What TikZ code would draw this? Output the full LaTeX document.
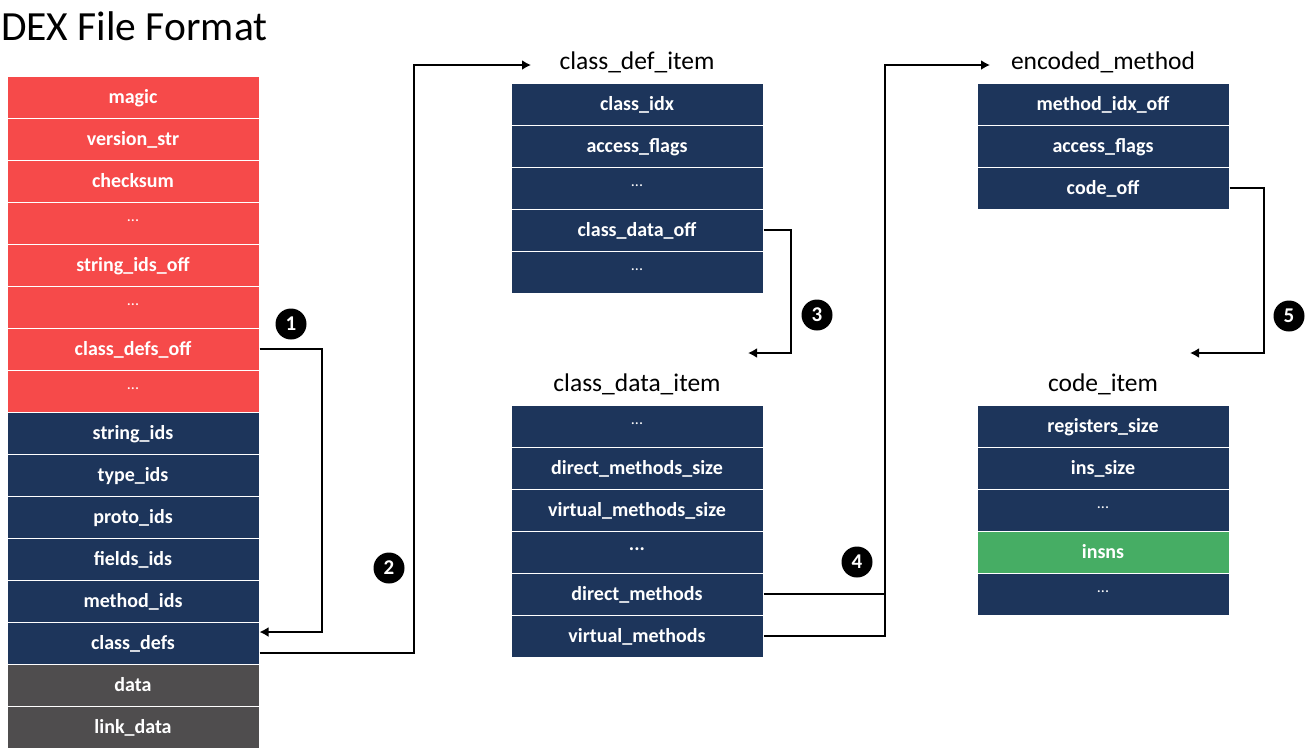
\documentclass[tikz,border=0pt]{standalone}
\usepackage{fontspec}
\setmainfont{Carlito}
\usetikzlibrary{arrows.meta}
\definecolor{hdrred}{RGB}{246,74,74}
\definecolor{navyrow}{RGB}{29,53,91}
\definecolor{grayrow}{RGB}{79,77,78}
\definecolor{insgreen}{RGB}{70,173,100}
\begin{document}
\begin{tikzpicture}[x=1pt,y=-1pt,
  row/.style={draw=white, line width=1pt, minimum width=252pt, minimum height=42pt,
    inner sep=0pt, text=white, font=\fontsize{20}{24}\selectfont\bfseries,
    text height=15pt, text depth=3pt, anchor=center},
  redrow/.style={row, fill=hdrred},
  navy/.style={row, fill=navyrow},
  grayr/.style={row, fill=grayrow},
  greenrow/.style={row, fill=insgreen},
  dots/.style={text height=7pt, text depth=11pt},
  thin/.style={dots, font=\fontsize{16}{20}\selectfont},
  header/.style={anchor=base, inner sep=0pt, font=\fontsize{25.5}{30}\selectfont},
  badge/.style={circle, fill=black, text=white, minimum size=31pt, inner sep=0pt,
    font=\fontsize{21}{24}\selectfont\bfseries},
  link/.style={line width=2pt, draw=black},
  arr/.style={link, -{Latex[length=9pt,width=10pt]}}
]
\useasboundingbox (0,0) rectangle (1305,748);

% title
\node[anchor=base west, inner sep=0pt, font=\fontsize{41.5}{48}\selectfont] (title) at (1,40) {DEX File Format};

% left column: DEX file
\node[redrow] (magic) at (133,97) {magic};
\node[redrow] (vers) at (133,139) {version\_str};
\node[redrow] (chk) at (133,181) {checksum};
\node[redrow,thin] (rdots1) at (133,223) {...};
\node[redrow] (sidoff) at (133,265) {string\_ids\_off};
\node[redrow,thin] (rdots2) at (133,307) {...};
\node[redrow] (cdoff) at (133,349) {class\_defs\_off};
\node[redrow,thin] (rdots3) at (133,391) {...};
\node[navy] (sids) at (133,433) {string\_ids};
\node[navy] (tids) at (133,475) {type\_ids};
\node[navy] (pids) at (133,517) {proto\_ids};
\node[navy] (fids) at (133,559) {fields\_ids};
\node[navy] (mids) at (133,601) {method\_ids};
\node[navy] (cdefs) at (133,643) {class\_defs};
\node[grayr] (data) at (133,685) {data};
\node[grayr] (link) at (133,727) {link\_data};

% class_def_item
\node[header] (cdihead) at (637,69) {class\_def\_item};
\node[navy] (cidx) at (637,104) {class\_idx};
\node[navy] (cflags) at (637,146) {access\_flags};
\node[navy,thin] (cdots1) at (637,188) {...};
\node[navy] (cdataoff) at (637,230) {class\_data\_off};
\node[navy,thin] (cdots2) at (637,272) {...};

% class_data_item
\node[header] (cdahead) at (637,391) {class\_data\_item};
\node[navy,thin] (ddots1) at (637,426) {...};
\node[navy] (dms) at (637,468) {direct\_methods\_size};
\node[navy] (vms) at (637,510) {virtual\_methods\_size};
\node[navy,dots] (ddots2) at (637,552) {...};
\node[navy] (dm) at (637,594) {direct\_methods};
\node[navy] (vm) at (637,636) {virtual\_methods};

% encoded_method
\node[header] (emhead) at (1103,69) {encoded\_method};
\node[navy] (midx) at (1103,104) {method\_idx\_off};
\node[navy] (mflags) at (1103,146) {access\_flags};
\node[navy] (codeoff) at (1103,188) {code\_off};

% code_item
\node[header] (cihead) at (1103,391) {code\_item};
\node[navy] (regs) at (1103,426) {registers\_size};
\node[navy] (ins) at (1103,468) {ins\_size};
\node[navy,thin] (idots1) at (1103,510) {...};
\node[greenrow] (insns) at (1103,552) {insns};
\node[navy,thin] (idots2) at (1103,594) {...};

% badges
\node[badge] (b1) at (291,324) {1};
\node[badge] (b2) at (389,568) {2};
\node[badge] (b3) at (817,315) {3};
\node[badge] (b4) at (857,562) {4};
\node[badge] (b5) at (1289,316) {5};

% bend and tip coordinates
\coordinate (c1) at (322,349);
\coordinate (t1) at ([yshift=11pt]cdefs.east);
\coordinate (c2) at (414,65);
\coordinate (t2) at (531,65);
\coordinate (c3) at (791,230);
\coordinate (t3) at (748,353);
\coordinate (c4) at (885,65);
\coordinate (t4) at (990,65);
\coordinate (c5) at (1264,188);
\coordinate (t5) at (1190,353);

% connectors
\draw[arr] (cdoff.east) -- (c1) |- (t1);
\draw[arr] ([yshift=-10pt]cdefs.east) -| (c2) -- (t2);
\draw[arr] (cdataoff.east) -- (c3) |- (t3);
\draw[link] (dm.east) -- (dm.east -| c4);
\draw[arr] (vm.east) -| (c4) -- (t4);
\draw[arr] (codeoff.east) -- (c5) |- (t5);
\end{tikzpicture}
\end{document}
